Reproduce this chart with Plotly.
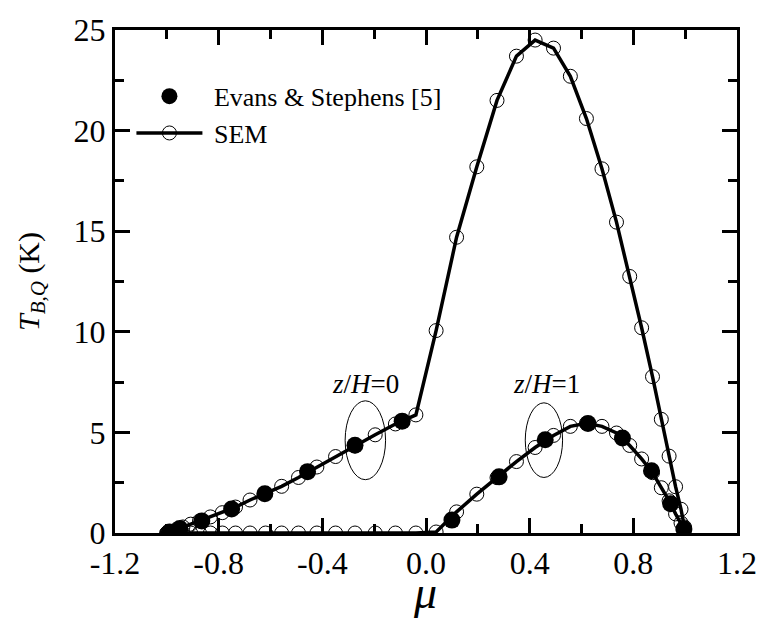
import plotly.graph_objects as go

# ---------------- data ----------------
mu_neg = [-1.0, -0.997, -0.984, -0.963, -0.938, -0.908, -0.874, -0.832, -0.786, -0.735,
          -0.679, -0.619, -0.557, -0.492, -0.421, -0.349, -0.274, -0.196, -0.118, -0.039]
mu_pos = [0.039, 0.118, 0.196, 0.274, 0.349, 0.421, 0.492, 0.557, 0.619, 0.679,
          0.735, 0.786, 0.832, 0.874, 0.908, 0.938, 0.963, 0.984, 0.997]

# SEM, z/H = 0
sem0_neg = [0.0, 0.03, 0.08, 0.17, 0.30, 0.44, 0.60, 0.80, 1.01, 1.29,
            1.64, 1.97, 2.32, 2.76, 3.28, 3.80, 4.33, 4.88, 5.42, 5.87]
sem0_pos = [10.06, 14.7, 18.2, 21.5, 23.7, 24.5, 24.1, 22.7, 20.6, 18.1,
            15.45, 12.75, 10.2, 7.77, 5.65, 3.82, 2.30, 1.18, 0.30]

# SEM, z/H = 1
sem1_neg = [0.0] * 20
sem1_pos = [0.05, 1.05, 1.93, 2.75, 3.55, 4.25, 4.85, 5.30, 5.45, 5.30,
            4.97, 4.35, 3.68, 3.00, 2.25, 1.60, 0.95, 0.50, 0.15]

# Evans & Stephens [5]
es0_mu = [-0.99, -0.95, -0.865, -0.75, -0.622, -0.457, -0.274, -0.092]
es0_T = [0.05, 0.22, 0.60, 1.19, 1.95, 3.05, 4.36, 5.56]
es1_mu = [0.10, 0.282, 0.46, 0.625, 0.758, 0.87, 0.944, 0.995]
es1_T = [0.64, 2.79, 4.64, 5.44, 4.72, 3.09, 1.45, 0.20]

x_ticks = [-1.2, -0.8, -0.4, 0.0, 0.4, 0.8, 1.2]
x_tick_text = ["-1.2", "-0.8", "-0.4", "0.0", "0.4", "0.8", "1.2"]
y_ticks = [0, 5, 10, 15, 20, 25]

# ellipse annotations (data coords) and labels
ell0 = dict(x0=-0.312, x1=-0.156, y0=2.65, y1=6.57)
ell1 = dict(x0=0.383, x1=0.527, y0=2.76, y1=6.47)
lab0 = dict(x=-0.233, y=7.4, text="<i>z</i>/<i>H</i>=0")
lab1 = dict(x=0.466, y=7.4, text="<i>z</i>/<i>H</i>=1")

FONT = "Liberation Serif"
NB = "\u00a0"

fig = go.Figure()

mu_all = mu_neg + mu_pos
fig.add_trace(go.Scatter(
    x=mu_all, y=sem0_neg + sem0_pos, mode="lines+markers", name=NB + "SEM",
    line=dict(color="black", width=3.5),
    marker=dict(symbol="circle-open", size=14, color="black", line=dict(width=1)),
    legendrank=2, legendgroup="sem"))
fig.add_trace(go.Scatter(
    x=mu_all, y=sem1_neg + sem1_pos, mode="lines+markers", name="SEM",
    line=dict(color="black", width=3.5),
    marker=dict(symbol="circle-open", size=14, color="black", line=dict(width=1)),
    showlegend=False, legendgroup="sem"))
fig.add_trace(go.Scatter(
    x=es0_mu + [None] + es1_mu, y=es0_T + [None] + es1_T, mode="markers",
    name=NB + "Evans &amp; Stephens [5]",
    marker=dict(symbol="circle", size=17, color="black"),
    legendrank=1))

for e in (ell0, ell1):
    fig.add_shape(type="circle", xref="x", yref="y", line=dict(color="black", width=1), **e)
for l in (lab0, lab1):
    fig.add_annotation(x=l["x"], y=l["y"], text=l["text"], showarrow=False,
                       font=dict(family=FONT, size=27, color="black"))

# x-axis title as a paper annotation (large italic mu)
fig.add_annotation(x=0.499, y=-0.118, xref="paper", yref="paper", text="<i>μ</i>",
                   showarrow=False, xanchor="center", yanchor="middle",
                   font=dict(family=FONT, size=46, color="black"))

axis_common = dict(
    showline=True, linecolor="black", linewidth=3, mirror="ticks",
    ticks="inside", tickcolor="black", tickwidth=3, ticklen=15,
    showgrid=False, zeroline=False,
    tickfont=dict(family=FONT, size=32, color="black"),
)

fig.update_xaxes(
    range=[-1.2, 1.2], tickmode="array", tickvals=x_ticks, ticktext=x_tick_text,
    minor=dict(ticks="inside", tickcolor="black", tickwidth=3, ticklen=9, dtick=0.2),
    **axis_common)
fig.update_yaxes(
    range=[0, 25], tickmode="array", tickvals=y_ticks,
    minor=dict(ticks="inside", tickcolor="black", tickwidth=3, ticklen=9, dtick=2.5),
    title=dict(text="<i>T</i><sub><i>B,Q</i></sub> (K)", font=dict(family=FONT, size=30, color="black"),
               standoff=26),
    **axis_common)

fig.update_layout(
    width=769, height=618,
    margin=dict(l=115, r=26, t=23, b=85),
    paper_bgcolor="white", plot_bgcolor="white",
    showlegend=True,
    legend=dict(x=0.0264, y=0.915, xanchor="left", yanchor="top",
                bgcolor="rgba(0,0,0,0)", borderwidth=0,
                font=dict(family=FONT, size=26, color="black"),
                itemwidth=66, tracegroupgap=0, traceorder="normal"),
)

fig.write_html("out.html")
